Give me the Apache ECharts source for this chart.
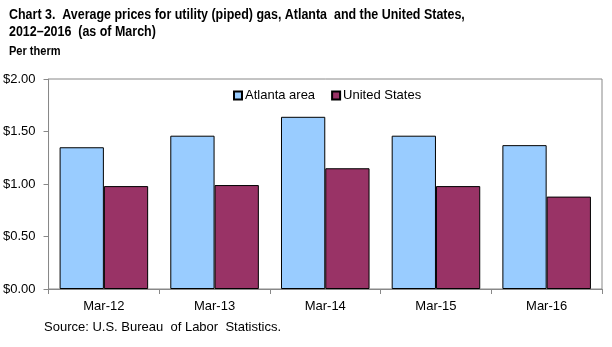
<!DOCTYPE html>
<html>
<head>
<meta charset="utf-8">
<script src="https://cdn.jsdelivr.net/npm/echarts@6/dist/echarts.min.js"></script>
<style>
  html, body { margin: 0; padding: 0; background: #fff; }
  #chart { width: 612px; height: 347px; }
</style>
</head>
<body>
<div id="chart"></div>
<script>
// Average price of utility (piped) gas per therm, March of each year
const categories = ['Mar-12', 'Mar-13', 'Mar-14', 'Mar-15', 'Mar-16'];
const atlantaArea = [1.35, 1.46, 1.64, 1.46, 1.37];
const unitedStates = [0.98, 0.99, 1.15, 0.98, 0.88];
const seriesNames = ['Atlanta area', 'United States'];

const titleLines = [
  'Chart 3.  Average prices for utility (piped) gas, Atlanta  and the United States,',
  '2012\u20132016  (as of March)'
];
const unitLabel = 'Per therm';
const sourceNote = 'Source: U.S. Bureau  of Labor  Statistics.';

const FONT = 'Liberation Sans, Arial, sans-serif';
const chart = echarts.init(document.getElementById('chart'), null, { renderer: 'canvas' });

chart.setOption({
  animation: false,
  backgroundColor: '#ffffff',
  textStyle: { fontFamily: FONT },
  // Heading lines are drawn slightly condensed, like a narrow bold face
  graphic: [
    { type: 'text', x: 9, y: 8, scaleX: 0.89,
      style: { text: titleLines[0], fill: '#000', font: 'bold 14px ' + FONT } },
    { type: 'text', x: 9, y: 25, scaleX: 0.89,
      style: { text: titleLines[1], fill: '#000', font: 'bold 14px ' + FONT } },
    { type: 'text', x: 9, y: 46, scaleX: 0.92,
      style: { text: unitLabel, fill: '#000', font: 'bold 12px ' + FONT } },
    { type: 'text', x: 44, y: 321,
      style: { text: sourceNote, fill: '#000', font: 'normal 13px ' + FONT } }
  ],
  legend: {
    data: seriesNames,
    top: 89,
    left: 233,
    padding: 0,
    itemWidth: 8,
    itemHeight: 8,
    itemGap: 16,
    textStyle: { fontFamily: FONT, fontSize: 13, color: '#000', padding: [0, 0, 0, -2] },
    icon: 'rect'
  },
  grid: {
    left: 47.5, right: 10, top: 79, bottom: 58,
    show: true, borderColor: '#888', borderWidth: 1, backgroundColor: 'transparent'
  },
  xAxis: {
    type: 'category',
    data: categories,
    axisLine: { lineStyle: { color: '#888' } },
    axisTick: { show: true, length: 5, lineStyle: { color: '#888' } },
    axisLabel: { fontFamily: FONT, fontSize: 13, color: '#000', margin: 11 }
  },
  yAxis: {
    type: 'value',
    min: 0, max: 2, interval: 0.5,
    axisLine: { show: true, lineStyle: { color: '#888' } },
    axisTick: { show: true, length: 5, lineStyle: { color: '#888' } },
    splitLine: { show: false },
    axisLabel: {
      fontFamily: FONT, fontSize: 13, color: '#000', margin: 13,
      formatter: v => '$' + v.toFixed(2)
    }
  },
  series: [
    {
      name: seriesNames[0], type: 'bar', data: atlantaArea,
      barGap: '0%', barCategoryGap: '20%',
      itemStyle: { color: '#99ccff', borderColor: '#000', borderWidth: 1 }
    },
    {
      name: seriesNames[1], type: 'bar', data: unitedStates,
      itemStyle: { color: '#993366', borderColor: '#000', borderWidth: 1 }
    }
  ]
});
</script>
</body>
</html>
